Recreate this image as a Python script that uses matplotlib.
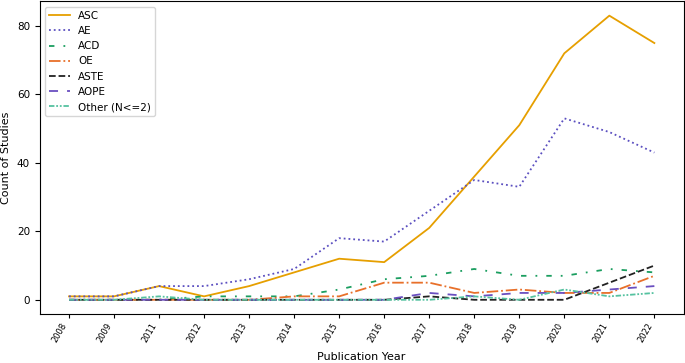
import matplotlib
matplotlib.use("Agg")
import matplotlib.pyplot as plt
import numpy as np

years = ["2008", "2009", "2011", "2012", "2013", "2014", "2015",
         "2016", "2017", "2018", "2019", "2020", "2021", "2022"]

asc = [1, 1, 4, 1, 4, 8, 12, 11, 21, 36, 51, 72, 83, 75]
ae = [1, 1, 4, 4, 6, 9, 18, 17, 26, 35, 33, 53, 49, 43]
acd = [0, 0, 0, 1, 1, 1, 3, 6, 7, 9, 7, 7, 9, 8]
oe = [0, 0, 0, 0, 0, 1, 1, 5, 5, 2, 3, 2, 2, 7]
aste = [0, 0, 0, 0, 0, 0, 0, 0, 1, 0, 0, 0, 5, 10]
aope = [0, 0, 0, 0, 0, 0, 0, 0, 2, 1, 2, 2, 3, 4]
other = [0, 0, 1, 0, 0, 0, 0, 0, 0, 1, 0, 3, 1, 2]

series = [
    ("ASC", asc, "#E69F00", "-"),
    ("AE", ae, "#5B4FC0", ":"),
    ("ACD", acd, "#1B9E60", (0, (3, 5, 1, 5))),
    ("OE", oe, "#E8702A", "-."),
    ("ASTE", aste, "#222222", "--"),
    ("AOPE", aope, "#6A4FC0", (0, (5, 5))),
    ("Other (N<=2)", other, "#55C2A0", (0, (3, 1, 1, 1, 1, 1))),
]

fig = plt.figure(figsize=(6.85, 3.63), dpi=100)
ax = fig.add_axes([0.058, 0.135, 0.94, 0.861])

x = np.arange(len(years))
for name, vals, color, ls in series:
    ax.plot(x, vals, color=color, linestyle=ls, linewidth=1.3, label=name)

ax.set_xticks(x)
ax.set_xticklabels(years, rotation=60, ha="right", fontsize=6)
ax.tick_params(axis="x", length=3, pad=2)
ax.tick_params(axis="y", labelsize=7.5)
ax.set_xlabel("Publication Year", fontsize=8, labelpad=6)
ax.set_ylabel("Count of Studies", fontsize=8)
ax.legend(loc="upper left", fontsize=7.5)

fig.savefig("out.png", dpi=100)
